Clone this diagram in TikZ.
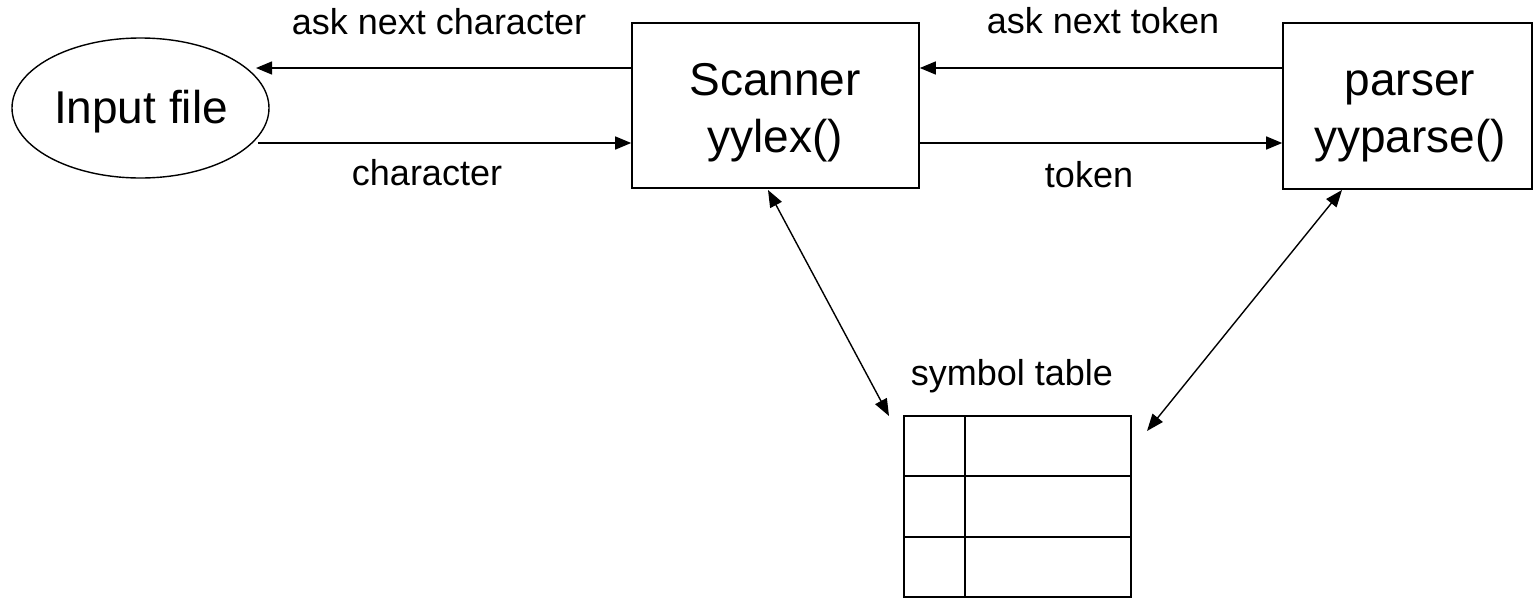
\documentclass[tikz,border=0pt]{standalone}
\usepackage{fontspec}
\setmainfont{Liberation Sans}
\usetikzlibrary{shapes.geometric,arrows.meta}
\begin{document}
\begin{tikzpicture}[x=1pt,y=-1pt,
  box/.style={draw,line width=1.6pt,rectangle,inner sep=0pt},
  big/.style={font=\fontsize{46}{55}\selectfont,inner sep=0pt,anchor=base},
  lbl/.style={font=\fontsize{36}{43}\selectfont,inner sep=0pt,anchor=base},
  arr/.style={line width=1.4pt,-{Triangle[length=16pt,width=13pt]}},
  darr/.style={line width=1.4pt,{Triangle[length=17pt,width=13pt]}-{Triangle[length=17pt,width=13pt]}}]
\useasboundingbox (0,0) rectangle (1534,598);
% nodes
\node[draw,ellipse,line width=1.4pt,minimum width=257pt,minimum height=140pt,inner sep=0pt] (inp) at (140.5,108) {};
\node[big] (inptxt) at (141,123) {Input file};
\node[box,minimum width=287pt,minimum height=165pt] (scanner) at (775.5,105.5) {};
\node[big] (sc1) at (775,95) {Scanner};
\node[big] (sc2) at (775,152) {yylex()};
\node[box,minimum width=249pt,minimum height=166pt] (parser) at (1407.5,106) {};
\node[big] (pa1) at (1410,95) {parser};
\node[big] (pa2) at (1410,152) {yyparse()};
% symbol table
\node[box,minimum width=227pt,minimum height=181pt] (tbl) at (1017.5,506.5) {};
\draw[line width=1.4pt] (tbl.north west |- 0,476) -- (tbl.north east |- 0,476);
\draw[line width=1.4pt] (tbl.north west |- 0,537) -- (tbl.north east |- 0,537);
\draw[line width=1.4pt] (965,0 |- tbl.north) -- (965,0 |- tbl.south);
\node[lbl] (tbltxt) at (1012,385) {symbol table};
% coordinates
\coordinate (e1) at (256,68);
\coordinate (e2) at (258,143);
\coordinate (s1) at (768,190);
\coordinate (t1) at (889,416);
\coordinate (p1) at (1342,190);
\coordinate (t2) at (1147,431);
% arrows
\draw[arr] (scanner.west |- e1) -- (e1);
\draw[arr] (e2) -- (scanner.west |- e2);
\draw[arr] (parser.west |- e1) -- (scanner.east |- e1);
\draw[arr] (scanner.east |- e2) -- (parser.west |- e2);
\draw[darr] (s1) -- (t1);
\draw[darr] (p1) -- (t2);
% labels
\node[lbl] (l1) at (439,34) {ask next character};
\node[lbl] (l2) at (427,185) {character};
\node[lbl] (l3) at (1103,33) {ask next token};
\node[lbl] (l4) at (1089,187) {token};
\end{tikzpicture}
\end{document}
